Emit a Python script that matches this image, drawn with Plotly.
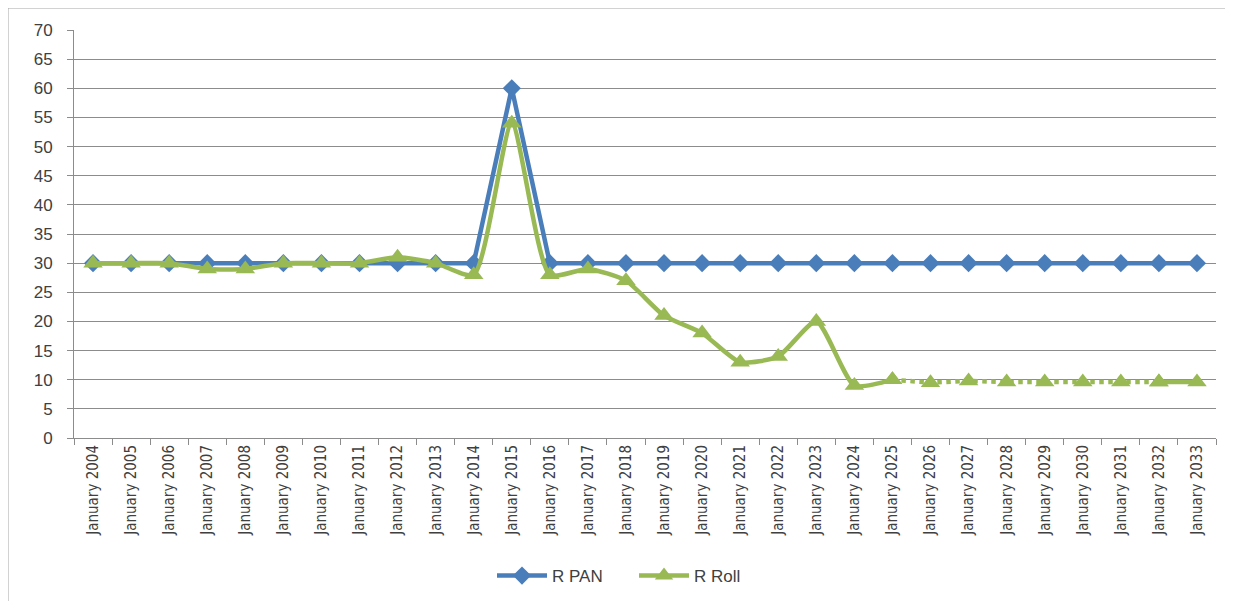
import plotly.graph_objects as go

years = [f"January {y}" for y in range(2004, 2034)]
r_pan = [30, 30, 30, 30, 30, 30, 30, 30, 30, 30, 30, 60, 30, 30, 30,
         30, 30, 30, 30, 30, 30, 30, 30, 30, 30, 30, 30, 30, 30, 30]
r_roll = [30, 30, 30, 29, 29, 30, 30, 30, 31, 30, 28, 54, 28, 29, 27,
          21, 18, 13, 14, 20, 9, 10, 9.5, 9.8, 9.6, 9.6, 9.6, 9.6, 9.6, 9.6]

BLUE = "#4A7EBB"
GREEN = "#98B954"
GRID = "#8C8C8C"

fig = go.Figure()

fig.add_trace(go.Scatter(
    x=years, y=r_pan, name="R PAN", mode="lines+markers",
    line=dict(color=BLUE, width=4.5),
    marker=dict(symbol="diamond", size=14, color=BLUE),
))

fig.add_trace(go.Scatter(
    x=years[:22], y=r_roll[:22], name="R Roll", mode="lines+markers",
    line=dict(color=GREEN, width=4.5, shape="spline", smoothing=0.6),
    marker=dict(symbol="triangle-up", size=17, color=GREEN),
))
fig.add_trace(go.Scatter(
    x=years[21:29], y=r_roll[21:29], mode="lines+markers", showlegend=False,
    line=dict(color=GREEN, width=4.5, dash="dot"),
    marker=dict(symbol="triangle-up", size=17, color=GREEN),
))
fig.add_trace(go.Scatter(
    x=years[28:], y=r_roll[28:], mode="lines+markers", showlegend=False,
    line=dict(color=GREEN, width=4.5),
    marker=dict(symbol="triangle-up", size=17, color=GREEN),
))

# page has an 8px body margin, so lay out in a frame shifted by 8px
OFF = 8
W, H = 1233 - OFF, 601 - OFF
L, R, T = 74 - OFF, 17, 30 - OFF
B = H - (438 - OFF)
pw, ph = W - L - R, H - T - B

def px_to_paper_x(px):
    return (px - OFF - L) / pw

def px_to_paper_y(py):
    return (H - B - (py - OFF)) / ph

fig.add_shape(type="rect", xref="paper", yref="paper",
              x0=px_to_paper_x(8), x1=px_to_paper_x(1245),
              y0=px_to_paper_y(615), y1=px_to_paper_y(8),
              line=dict(color="#A6A6A6", width=1), fillcolor="rgba(0,0,0,0)",
              layer="below")

fig.update_layout(
    width=W, height=H,
    margin=dict(l=L, r=R, t=T, b=B, autoexpand=False),
    paper_bgcolor="white", plot_bgcolor="white",
    font=dict(family="DejaVu Sans Condensed, Liberation Sans Narrow, Arial", color="#404040"),
    legend=dict(orientation="h", x=px_to_paper_x(492), xanchor="left", y=px_to_paper_y(576),
                yanchor="middle", font=dict(size=17, family="Liberation Sans, Arial", color="#404040"),
                itemwidth=50, entrywidth=77, entrywidthmode="pixels"),
    xaxis=dict(
        type="category", categoryorder="array", categoryarray=years,
        tickangle=-90, tickfont=dict(size=15),
        showgrid=False, showline=True, linecolor=GRID, linewidth=1,
        ticks="outside", ticklen=6, tickcolor=GRID, tickson="boundaries",
        range=[-0.5, len(years) - 0.5],
    ),
    yaxis=dict(
        range=[0, 70], dtick=5, tick0=0,
        tickfont=dict(size=17, family="Liberation Sans, Arial", color="#404040"),
        showgrid=True, gridcolor=GRID, gridwidth=1,
        showline=True, linecolor=GRID, linewidth=1,
        ticks="outside", ticklen=6, tickcolor=GRID,
        ticklabelstandoff=11, zeroline=False,
    ),
)

fig.write_html("out.html")
